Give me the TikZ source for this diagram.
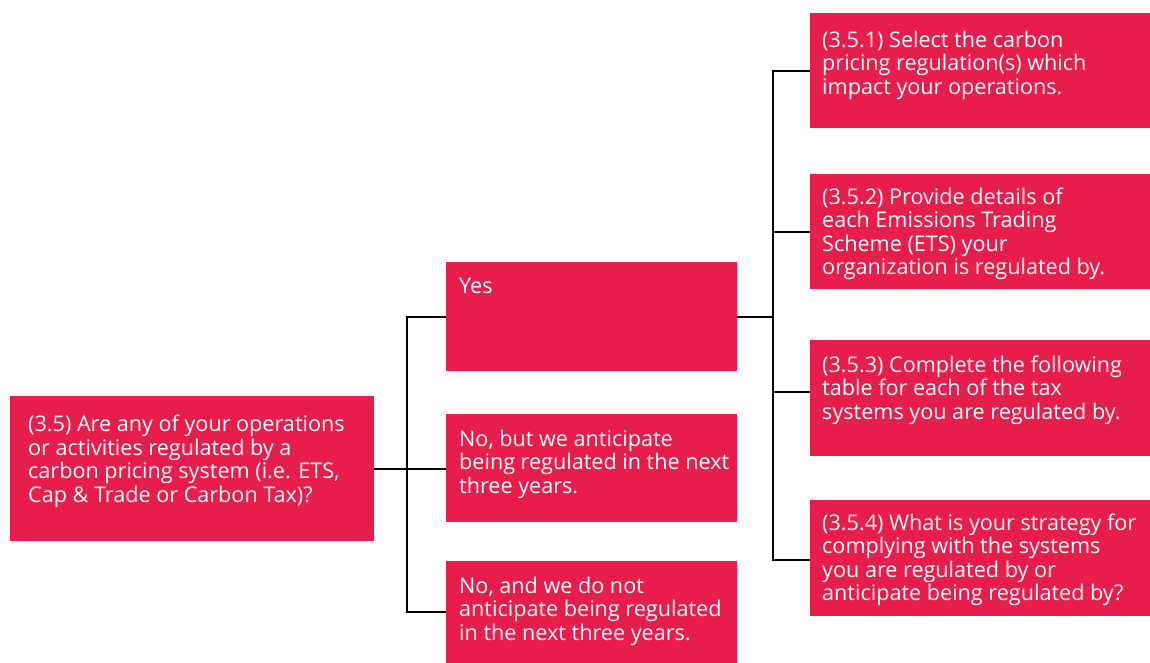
\documentclass[tikz,border=0pt]{standalone}
\usepackage{fontspec}
\setmainfont{Open Sans}
\usepackage{xcolor}
\usepackage{tikz}
\usetikzlibrary{positioning}
\definecolor{CdpRed}{HTML}{E71D4C}
\tikzset{
  qbox/.style 2 args={fill=CdpRed,draw=none,anchor=north west,inner sep=0pt,
    minimum width=#1,minimum height=#2},
  qtext/.style={anchor=north west,inner sep=0pt,align=left,text=white,
    font=\fontsize{21.6}{23.5}\selectfont},
  link/.style={line width=2pt,draw=black},
}
\begin{document}
\begin{tikzpicture}[x=1pt,y=-1pt]
  \useasboundingbox (0,0) rectangle (1150,663);
  % boxes
  \node[qbox={364}{145}] (q35) at (10,396) {};
  \node[qbox={291}{109}] (yes) at (446,262) {};
  \node[qbox={291}{108}] (no1) at (446,414) {};
  \node[qbox={291}{102}] (no2) at (446,561) {};
  \node[qbox={340}{115}] (r1) at (810,13) {};
  \node[qbox={340}{115}] (r2) at (810,174) {};
  \node[qbox={340}{116}] (r3) at (810,340) {};
  \node[qbox={340}{116}] (r4) at (810,500) {};
  % texts
  \node[qtext] (q35t) at ([xshift=18pt,yshift=-19pt]q35.north west)
    {(3.5) Are any of your operations\\or activities regulated by a\\carbon pricing system (i.e. ETS,\\Cap \& Trade or Carbon Tax)?};
  \node[qtext] (yest) at ([xshift=13pt,yshift=-15.5pt]yes.north west) {Yes};
  \node[qtext] (no1t) at ([xshift=13pt,yshift=-15.5pt]no1.north west)
    {No, but we anticipate\\being regulated in the next\\three years.};
  \node[qtext] (no2t) at ([xshift=13pt,yshift=-15.5pt]no2.north west)
    {No, and we do not\\anticipate being regulated\\in the next three years.};
  \node[qtext] (r1t) at ([xshift=12pt,yshift=-17.5pt]r1.north west)
    {(3.5.1) Select the carbon\\pricing regulation(s) which\\impact your operations.};
  \node[qtext] (r2t) at ([xshift=12pt,yshift=-13.5pt]r2.north west)
    {(3.5.2) Provide details of\\each Emissions Trading\\Scheme (ETS) your\\organization is regulated by.};
  \node[qtext] (r3t) at ([xshift=12pt,yshift=-15.5pt]r3.north west)
    {(3.5.3) Complete the following\\table for each of the tax\\systems you are regulated by.};
  \node[qtext] (r4t) at ([xshift=12pt,yshift=-13.5pt]r4.north west)
    {(3.5.4) What is your strategy for\\complying with the systems\\you are regulated by or\\anticipate being regulated by?};
  % connectors
  \coordinate (fork1) at ([xshift=33pt]q35.east);
  \coordinate (fork2) at ([xshift=36pt]yes.east);
  \coordinate (r3in) at ([yshift=6pt]r3.west);
  \coordinate (r4in) at ([yshift=-2pt]r4.west);
  \draw[link] (q35.east) -- (q35.east -| no1.west);
  \draw[link] (yes.west) -| (fork1) |- (no2.west);
  \draw[link] (yes.east) -- (fork2);
  \draw[link] (r1.west) -| (fork2) |- (r4in);
  \draw[link] (fork2 |- r2.west) -- (r2.west);
  \draw[link] (fork2 |- r3in) -- (r3in);
\end{tikzpicture}
\end{document}
